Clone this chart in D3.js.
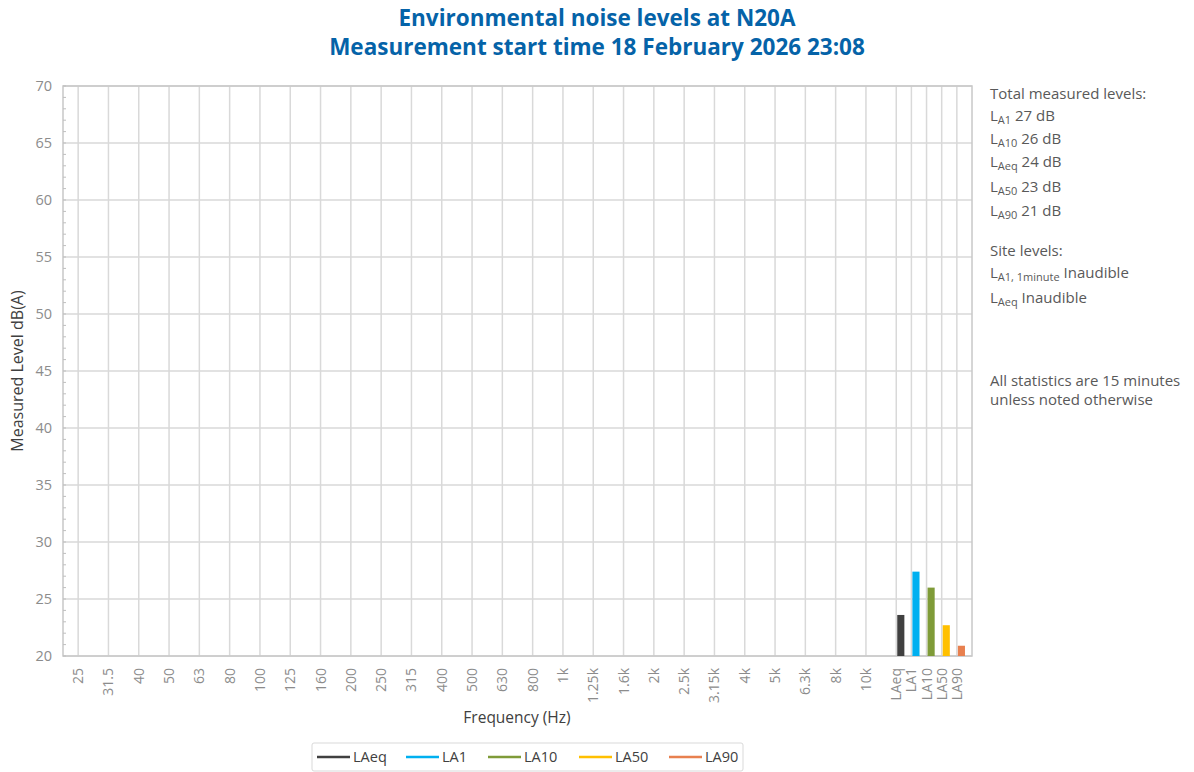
<!DOCTYPE html>
<html>
<head>
<meta charset="utf-8">
<script src="https://cdn.jsdelivr.net/npm/d3@7/dist/d3.min.js"></script>
<style>
  body { margin: 0; background: #fff; }
  svg { display: block; font-family: "Open Sans", "Noto Sans", sans-serif; }
</style>
</head>
<body>
<div id="chart"></div>
<script>
var bands = ["25", "31.5", "40", "50", "63", "80", "100", "125", "160", "200", "250", "315",
  "400", "500", "630", "800", "1k", "1.25k", "1.6k", "2k", "2.5k", "3.15k", "4k", "5k",
  "6.3k", "8k", "10k"];
var stats = ["LAeq", "LA1", "LA10", "LA50", "LA90"];
var statValues = [23.6, 27.4, 26.0, 22.7, 20.9];
var statColors = ["#404040", "#00b0f0", "#7f9b38", "#ffc000", "#e8804f"];
var yTicks = [20, 25, 30, 35, 40, 45, 50, 55, 60, 65, 70];

var width = 1194;
var height = 772;
var plotLeft = 63, plotRight = 972, plotTop = 86, plotBottom = 656;
var gridColor = "#d9d9d9";
var labelColor = "#8c8c8c";
var textColor = "#595959";

/* Categories: frequency bands take two slots, statistics one */
var cats = [];
bands.forEach(function (b, i) { cats.push({ name: b, pos: 2 * i + 1 }); });
stats.forEach(function (s, i) {
  cats.push({ name: s, pos: 2 * bands.length + 1 + i, value: statValues[i], color: statColors[i] });
});

var xScale = d3.scaleLinear().domain([0, 2 * bands.length + 1 + stats.length]).range([plotLeft, plotRight]);
var yScale = d3.scaleLinear().domain([20, 70]).range([plotBottom, plotTop]);
var slot = xScale(1) - xScale(0);

var svg = d3.select("#chart").append("svg")
  .attr("width", width).attr("height", height);

/* Title */
var title = svg.append("text")
  .attr("x", 597).attr("text-anchor", "middle")
  .attr("fill", "#0563a8").attr("font-weight", "bold").attr("font-size", "22.5px");
title.append("tspan").attr("x", 597).attr("y", 26).text("Environmental noise levels at N20A");
title.append("tspan").attr("x", 597).attr("y", 55).text("Measurement start time 18 February 2026 23:08");

/* Grid */
svg.append("g").selectAll("line.h")
  .data(yTicks)
  .enter().append("line")
  .attr("x1", plotLeft).attr("x2", plotRight)
  .attr("y1", (d) => yScale(d)).attr("y2", (d) => yScale(d))
  .attr("stroke", gridColor).attr("stroke-width", 1.5);

svg.append("g").selectAll("line.v")
  .data(cats)
  .enter().append("line")
  .attr("x1", (d) => xScale(d.pos)).attr("x2", (d) => xScale(d.pos))
  .attr("y1", plotTop).attr("y2", plotBottom)
  .attr("stroke", gridColor).attr("stroke-width", 1.5);

svg.append("rect")
  .attr("x", plotLeft).attr("y", plotTop)
  .attr("width", plotRight - plotLeft).attr("height", plotBottom - plotTop)
  .attr("fill", "none").attr("stroke", "#c8c8c8").attr("stroke-width", 1.5);

/* Bars */
svg.append("g").selectAll("rect")
  .data(cats.filter((d) => d.value != null))
  .enter().append("rect")
  .attr("x", (d) => xScale(d.pos) + 1)
  .attr("width", slot * 0.47)
  .attr("y", (d) => yScale(d.value))
  .attr("height", (d) => yScale(20) - yScale(d.value))
  .attr("fill", (d) => d.color);

/* Y axis */
var yAxis = d3.axisLeft(yScale).tickValues(yTicks).tickSize(0).tickPadding(11);
var yg = svg.append("g").attr("transform", `translate(${plotLeft}, 0)`).call(yAxis);
yg.select(".domain").remove();
yg.selectAll("text").attr("fill", labelColor).attr("font-size", "14.5px")
  .attr("font-family", "'Open Sans', sans-serif");

var minor = d3.range(20, 71, 1);
svg.append("g").selectAll("line")
  .data(minor)
  .enter().append("line")
  .attr("x1", plotLeft).attr("x2", plotLeft + 3)
  .attr("y1", (d) => yScale(d)).attr("y2", (d) => yScale(d))
  .attr("stroke", "#bfbfbf");

svg.append("text")
  .attr("transform", `translate(23, ${(plotTop + plotBottom) / 2}) rotate(-90)`)
  .attr("text-anchor", "middle")
  .attr("fill", "#404040").attr("font-size", "16px")
  .text("Measured Level dB(A)");

/* X labels */
svg.append("g").selectAll("text")
  .data(cats)
  .enter().append("text")
  .attr("transform", (d) => `translate(${xScale(d.pos) + 5}, ${plotBottom + 12}) rotate(-90)`)
  .attr("text-anchor", "end")
  .attr("fill", labelColor).attr("font-size", "14px")
  .text((d) => d.name);

svg.append("text")
  .attr("x", 517).attr("y", 723).attr("text-anchor", "middle")
  .attr("fill", "#404040").attr("font-size", "15.5px")
  .text("Frequency (Hz)");

/* Legend */
var legend = svg.append("g");
legend.append("rect")
  .attr("x", 312).attr("y", 743).attr("width", 431).attr("height", 28)
  .attr("rx", 2).attr("fill", "#fff").attr("stroke", "#d9d9d9");
var legendX = [317, 406, 488, 579, 669];
var items = legend.selectAll("g.item")
  .data(stats)
  .enter().append("g")
  .attr("transform", (d, i) => `translate(${legendX[i]}, 757)`);
items.append("line")
  .attr("x1", 0).attr("x2", 33)
  .attr("stroke", (d, i) => statColors[i]).attr("stroke-width", 2.5);
items.append("text")
  .attr("x", 36).attr("y", 5)
  .attr("fill", "#404040").attr("font-size", "14.5px")
  .text((d) => d);

/* Side notes */
var notes = [
  { y: 99, main: "Total measured levels:" },
  { y: 121, sub: "A1", main: " 27 dB" },
  { y: 144, sub: "A10", main: " 26 dB" },
  { y: 167, sub: "Aeq", main: " 24 dB" },
  { y: 192, sub: "A50", main: " 23 dB" },
  { y: 216, sub: "A90", main: " 21 dB" },
  { y: 256, main: "Site levels:" },
  { y: 278, sub: "A1, 1minute", main: " Inaudible" },
  { y: 303, sub: "Aeq", main: " Inaudible" },
  { y: 386, main: "All statistics are 15 minutes" },
  { y: 405, main: "unless noted otherwise" }
];
var noteG = svg.append("g").attr("fill", textColor).attr("font-size", "15px");
notes.forEach(function (n) {
  var t = noteG.append("text").attr("x", 990).attr("y", n.y);
  if (n.sub) {
    t.append("tspan").text("L");
    t.append("tspan").attr("font-size", "11px").attr("dy", 3).text(n.sub);
    t.append("tspan").attr("dy", -3).text(n.main);
  } else {
    t.text(n.main);
  }
});
</script>
</body>
</html>
